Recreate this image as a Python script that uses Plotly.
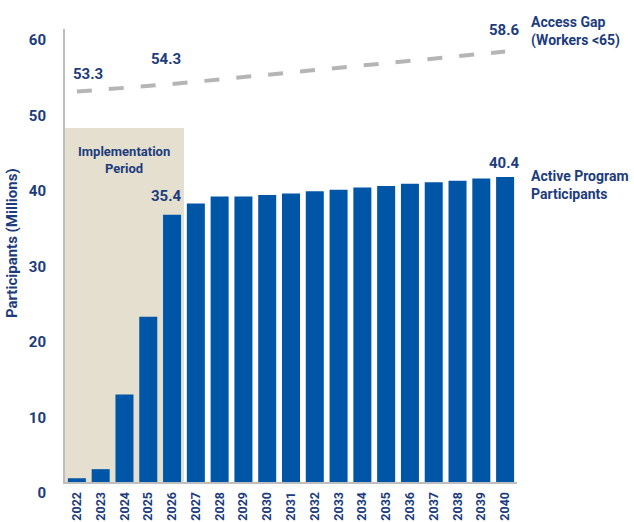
import plotly.graph_objects as go

# Active program participants (millions) by year
years = [str(y) for y in range(2022, 2041)]
participants = [0.5, 1.7, 11.6, 21.9, 35.4, 36.9, 37.8, 37.8, 38.0, 38.2,
                38.5, 38.7, 39.0, 39.2, 39.5, 39.7, 39.9, 40.2, 40.4]

# Access gap (workers under 65), millions
gap_years = ["2022", "2026", "2040"]
gap_values = [53.3, 54.3, 58.6]

# Y tick labels
y_ticks = [0, 10, 20, 30, 40, 50, 60]

NAVY = "#1D3C7D"
BLUE = "#0056A6"
GREY = "#B5B5B5"
BEIGE = "#E4DFCE"
AXIS = "#BEBEBE"
FONT = "Roboto, sans-serif"


def pos(year):
    """Category index of a year on the x axis."""
    return years.index(year)


def bold(size):
    return dict(size=size, color=NAVY, family=FONT, weight="bold")


fig = go.Figure()

fig.add_trace(go.Bar(
    x=years, y=participants, marker=dict(color=BLUE, line=dict(width=0)),
    yaxis="y", showlegend=False, hoverinfo="x+y",
))

fig.add_trace(go.Scatter(
    x=gap_years, y=gap_values, mode="lines", yaxis="y2",
    line=dict(color=GREY, width=4, dash="15px,17px"),
    showlegend=False, hoverinfo="x+y",
))

# Implementation period shading (2022-2026)
fig.add_shape(
    type="rect", xref="x", yref="y", x0=-0.5, x1=4.5, y0=0, y1=46.9,
    fillcolor=BEIGE, line=dict(width=0), layer="below",
)

annotations = [
    dict(x=2, y=42.6, xref="x", yref="y", text="Implementation<br>Period",
         showarrow=False, font=bold(13), align="center"),
    # bar value labels
    dict(x=pos("2026"), y=participants[pos("2026")], xref="x", yref="y",
         text=f"{participants[pos('2026')]:.1f}",
         showarrow=False, yanchor="middle", xshift=-6, yshift=19, font=bold(15)),
    dict(x=pos("2040"), y=participants[pos("2040")], xref="x", yref="y",
         text=f"{participants[pos('2040')]:.1f}",
         showarrow=False, yanchor="middle", xshift=-0.5, yshift=14, font=bold(15)),
    # access gap value labels
    dict(x=pos(gap_years[0]), y=gap_values[0], xref="x", yref="y2", text=f"{gap_values[0]:.1f}",
         showarrow=False, yanchor="middle", xshift=11.5, yshift=17.5, font=bold(15)),
    dict(x=pos(gap_years[1]), y=gap_values[1], xref="x", yref="y2", text=f"{gap_values[1]:.1f}",
         showarrow=False, yanchor="middle", xshift=-6, yshift=25.5, font=bold(15)),
    dict(x=pos(gap_years[2]), y=gap_values[2], xref="x", yref="y2", text=f"{gap_values[2]:.1f}",
         showarrow=False, yanchor="middle", xshift=-1, yshift=22, font=bold(15)),
    # series names on the right
    dict(x=1.0265, y=0.9945, xref="paper", yref="paper", text="Access Gap<br>(Workers <65)",
         showarrow=False, xanchor="left", yanchor="middle", align="left", font=bold(14)),
    dict(x=1.0265, y=0.655, xref="paper", yref="paper", text="Active Program<br>Participants",
         showarrow=False, xanchor="left", yanchor="middle", align="left", font=bold(14)),
    # y axis title
    dict(x=-0.117, y=0.5276, xref="paper", yref="paper", text="Participants (Millions)",
         showarrow=False, textangle=-90, xanchor="center", yanchor="middle", font=bold(15)),
]

fig.update_layout(
    width=634, height=522,
    margin=dict(l=65, r=117, t=29, b=40, pad=0, autoexpand=False),
    paper_bgcolor="white", plot_bgcolor="white",
    bargap=0.243,
    font=dict(family=FONT, color=NAVY),
    xaxis=dict(
        type="category", range=[-0.5, 18.5], showgrid=False, zeroline=False,
        showline=True, linecolor=AXIS, linewidth=2, ticks="", automargin=False,
        tickangle=-90, ticklabelstandoff=3, tickfont=bold(12.5),
    ),
    yaxis=dict(
        range=[0, 60], tickvals=y_ticks, ticktext=[str(v) for v in y_ticks],
        showgrid=False, zeroline=False, showline=True, linecolor=AXIS, linewidth=2,
        ticks="", ticklabelshift=11, ticklabelstandoff=14, automargin=False,
        tickfont=bold(15),
    ),
    yaxis2=dict(
        overlaying="y", range=[1.59, 61.59], visible=False, showgrid=False, zeroline=False,
    ),
    annotations=annotations,
)

fig.write_html("out.html")
